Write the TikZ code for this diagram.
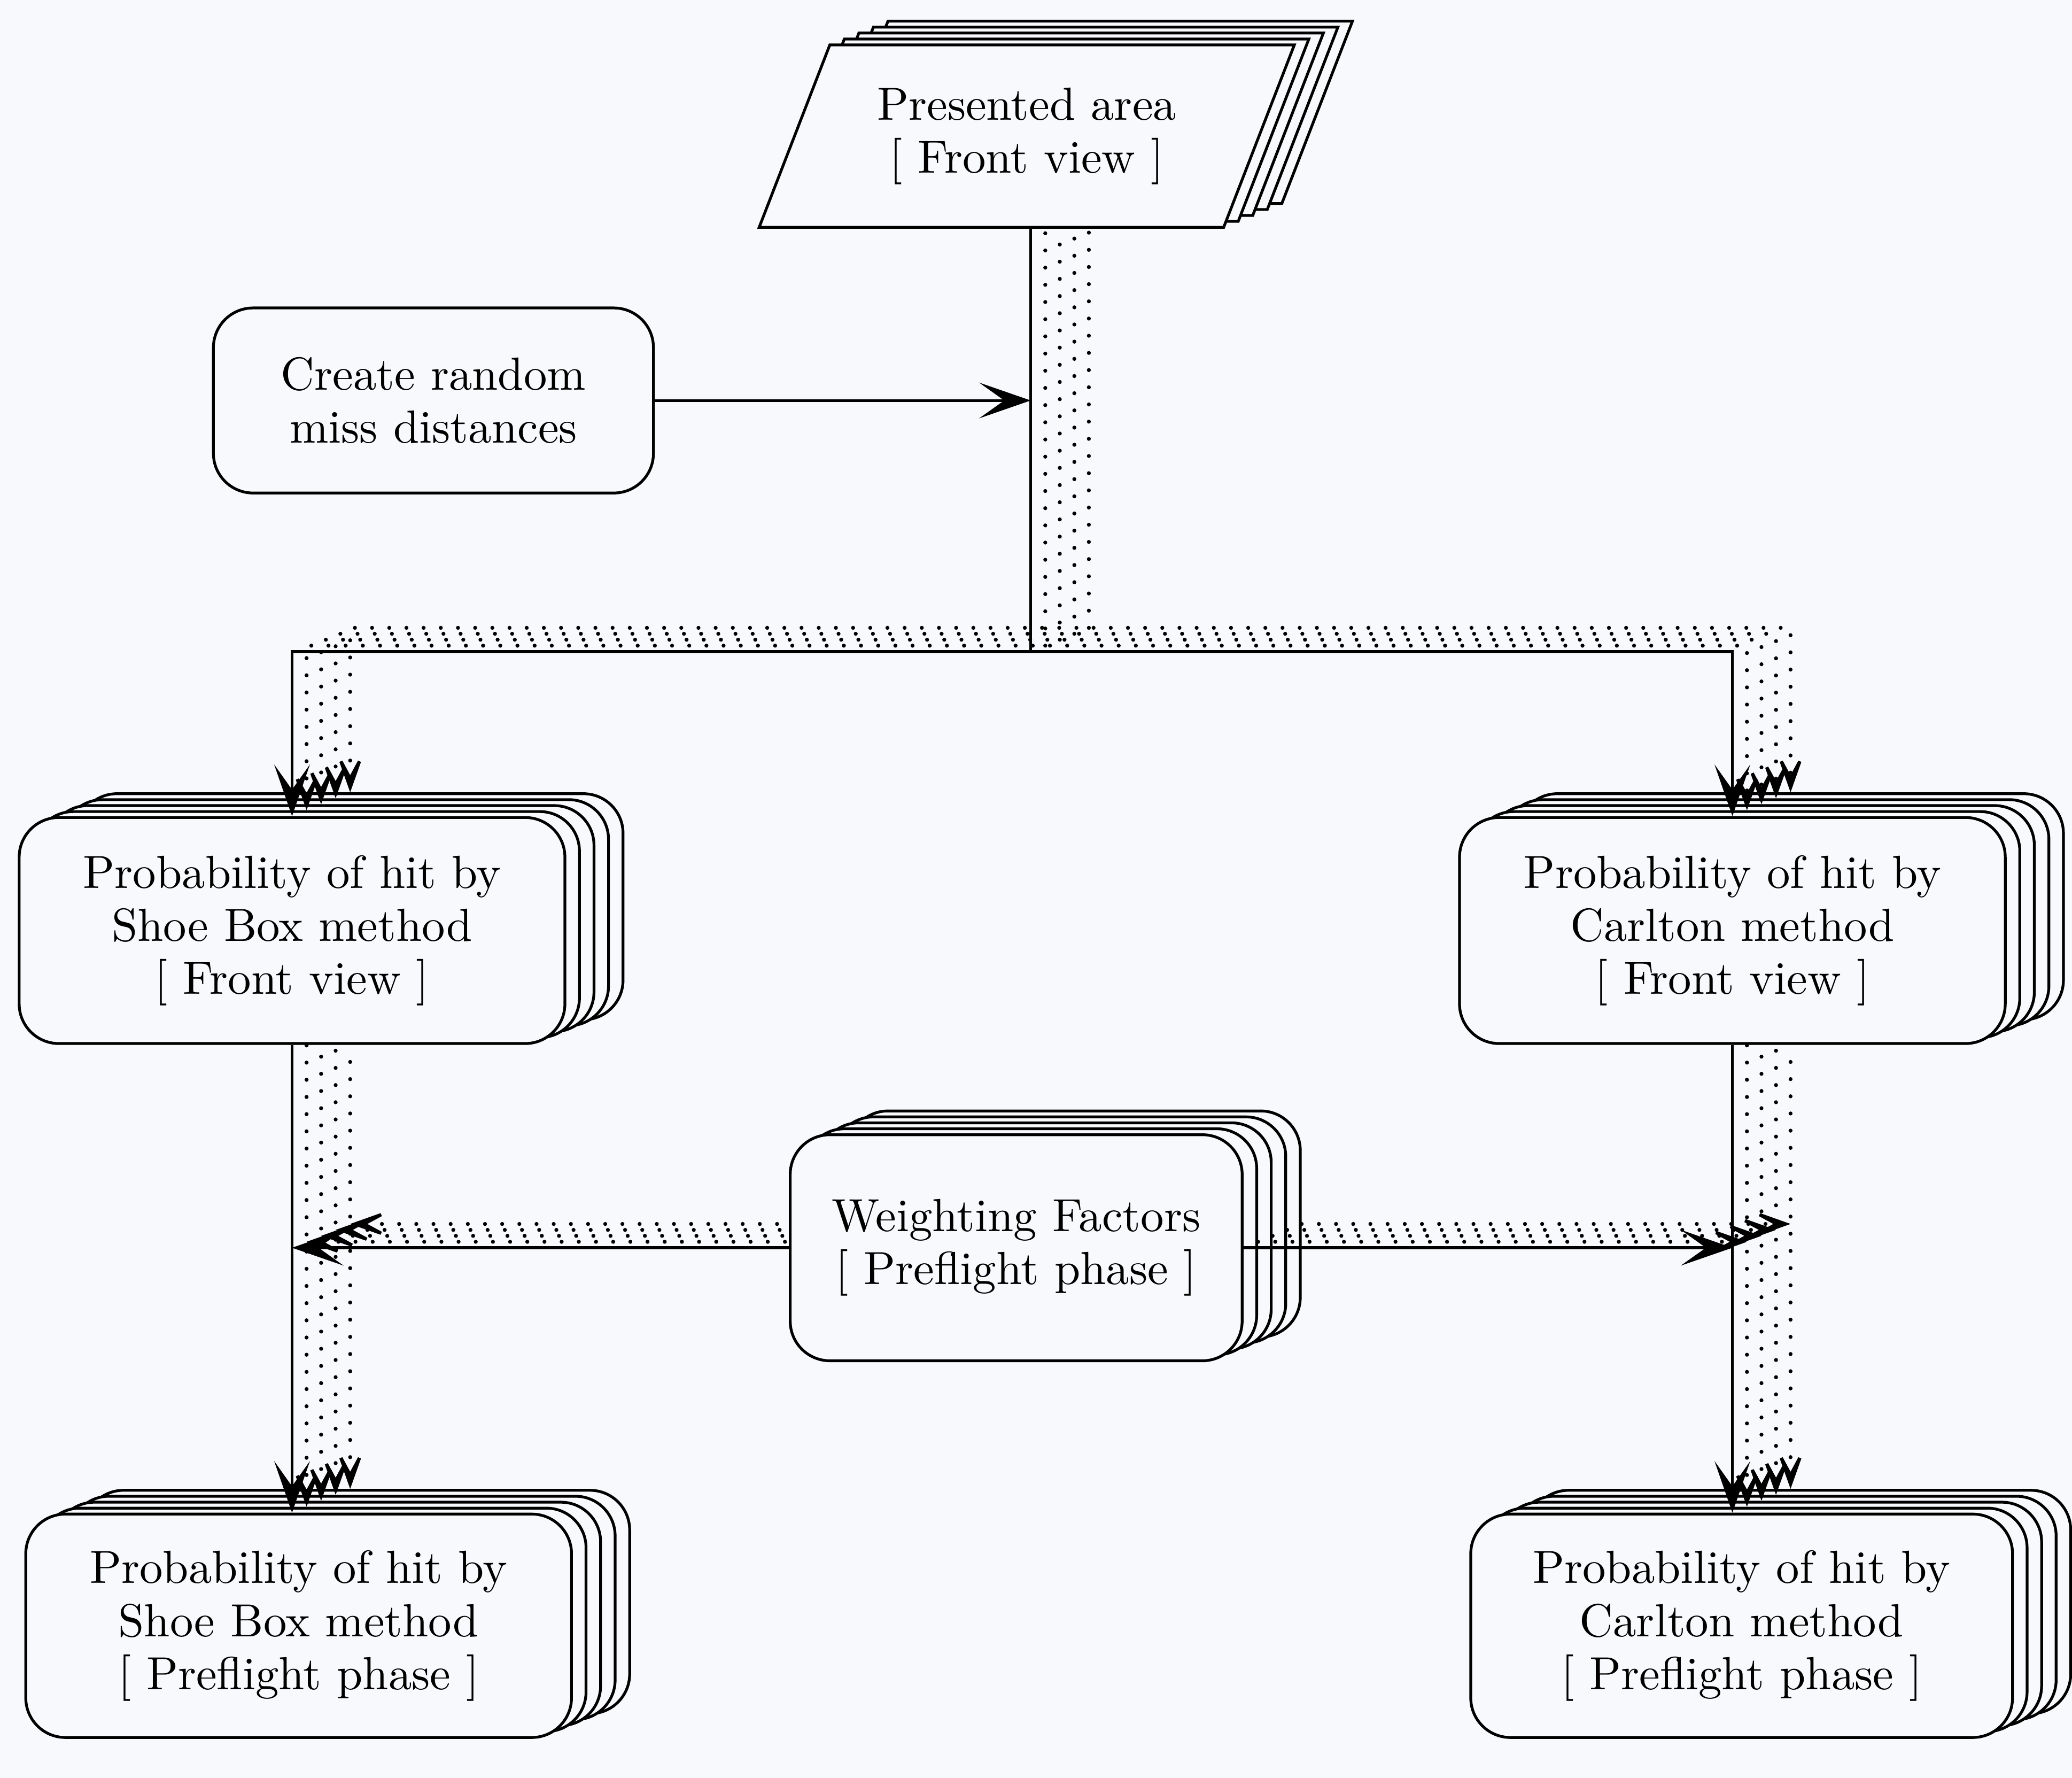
\documentclass[tikz,border=0pt]{standalone}
\usetikzlibrary{shapes.geometric, arrows.meta, positioning, shadows, calc}
\definecolor{paper}{RGB}{248,249,252}

\begin{document}
\begin{tikzpicture}[
    x=0.1mm, y=-0.1mm,
    font=\fontsize{10}{11.4}\selectfont,
    >={Stealth[length=3.9mm, width=2.7mm, inset=1.9mm]},
    box/.style   = {rectangle, rounded corners=3mm, draw, fill=paper,
                    line width=0.6pt, align=center, inner sep=0pt,
                    minimum width=41.3mm, minimum height=17.1mm},
    slab/.style  = {trapezium, trapezium left angle=61,
                    trapezium right angle=119, trapezium stretches=true,
                    draw, fill=paper, line width=0.6pt, align=center,
                    inner sep=0pt, minimum width=40.6mm, minimum height=13.8mm},
    stack/.style = {copy shadow={shadow xshift=4.4mm, shadow yshift=1.8mm,
                                 fill=paper, line width=0.6pt},
                    copy shadow={shadow xshift=3.3mm, shadow yshift=1.35mm,
                                 fill=paper, line width=0.6pt},
                    copy shadow={shadow xshift=2.2mm, shadow yshift=0.9mm,
                                 fill=paper, line width=0.6pt},
                    copy shadow={shadow xshift=1.1mm, shadow yshift=0.45mm,
                                 fill=paper, line width=0.6pt}},
    link/.style  = {line width=0.6pt},
    echo/.style  = {line width=0.3mm, line cap=round,
                    dash pattern=on 0pt off 1.3mm,
                    >={Stealth[length=3.8mm, width=2.7mm, inset=2.5mm,
                               line width=0.7pt]}},
]

\path[use as bounding box, fill=paper] (0,0) rectangle (1568,1345);

% -- sources ---------------------------------------------------
\node[slab, stack] (pres) at (777,103) {Presented area\\{[} Front view ]};
\node[box, minimum width=33.3mm, minimum height=14mm] (rnd) at (328,303)
    {Create random\\miss distances};

% -- front view results ----------------------------------------
\node[box, stack] (sbfv) at (221,704)
    {Probability of hit by\\Shoe Box method\\{[} Front view ]};
\node[box, stack] (cfv) at (1311,704)
    {Probability of hit by\\Carlton method\\{[} Front view ]};

% -- weighting -------------------------------------------------
\node[box, stack, minimum width=34.2mm] (wf) at (769,944)
    {Weighting Factors\\{[} Preflight phase ]};

% -- preflight results -----------------------------------------
\node[box, stack, minimum height=16.9mm] (sbpf) at (226,1230)
    {Probability of hit by\\Shoe Box method\\{[} Preflight phase ]};
\node[box, stack, minimum width=41mm, minimum height=16.9mm] (cpf) at (1318,1230)
    {Probability of hit by\\Carlton method\\{[} Preflight phase ]};

\coordinate (split) at (780,493);

% -- front lines -----------------------------------------------
\draw[link] (pres.south -| split) -- (split);
\draw[link, <->] (sbfv.north) -- (sbfv.north |- split)
    -- (cfv.north |- split) -- (cfv.north);
\draw[link, ->] (rnd.east) -- (rnd.east -| split);
\draw[link, ->] (sbfv.south) -- (sbfv.south |- sbpf.north);
\draw[link, ->] (cfv.south) -- (cfv.south |- cpf.north);
\draw[link, ->] (wf.west) -- (wf.west -| sbfv.south);
\draw[link, ->] (wf.east) -- (wf.east -| cfv.south);

% -- copies behind the front lines (drawn from the far end so
%    the dots of neighbouring copies are staggered) -------------
\foreach \k in {1,...,4} {
  \draw[echo] ($(split)+(11*\k,-4.5*\k)$)
      -- ($(pres.south -| split)+(11*\k,0)$);
  \draw[echo, <->] ($(sbfv.north)+(11*\k,-4.5*\k)$)
      -- ($(sbfv.north |- split)+(11*\k,-4.5*\k)$)
      -- ($(cfv.north |- split)+(11*\k,-4.5*\k)$)
      -- ($(cfv.north)+(11*\k,-4.5*\k)$);
  \draw[echo, <-] ($(sbfv.south |- sbpf.north)+(11*\k,-4.5*\k)$)
      -- ($(sbfv.south)+(11*\k,0)$);
  \draw[echo, <-] ($(cfv.south |- cpf.north)+(11*\k,-4.5*\k)$)
      -- ($(cfv.south)+(11*\k,0)$);
  \draw[echo, <-] ($(wf.west -| sbfv.south)+(11*\k,-4.5*\k)$)
      -- ($(wf.west)+(0,-4.5*\k)$);
  \draw[echo, ->] ($(wf.east)+(11*\k,-4.5*\k)$)
      -- ($(wf.east -| cfv.south)+(11*\k,-4.5*\k)$);
}

\end{tikzpicture}
\end{document}
